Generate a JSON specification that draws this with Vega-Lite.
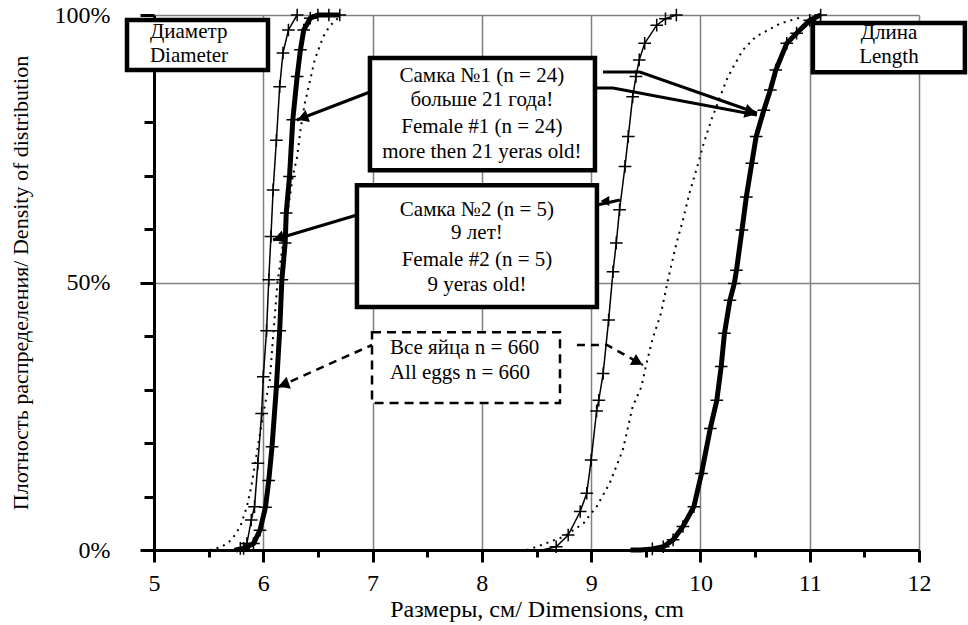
{
  "$schema": "https://vega.github.io/schema/vega-lite/v6.json",
  "width": 765,
  "height": 535,
  "autosize": {"type": "none"},
  "padding": {"left": 154, "top": 15, "right": 49, "bottom": 75},
  "background": "white",
  "config": {
    "font": "Liberation Serif",
    "view": {"stroke": null},
    "axis": {
      "labelFont": "Liberation Serif",
      "titleFont": "Liberation Serif",
      "labelFontSize": 24,
      "titleFontSize": 22,
      "titleFontWeight": "normal",
      "labelColor": "black",
      "titleColor": "black",
      "domainColor": "black",
      "domainWidth": 3,
      "tickColor": "black",
      "tickWidth": 3,
      "gridColor": "#808080",
      "gridWidth": 1.5
    }
  },
  "datasets": {
    "curves": [
      {"s": "f1", "d": "D", "x": 5.75, "p": 0},
      {"s": "f1", "d": "D", "x": 5.82, "p": 0.3},
      {"s": "f1", "d": "D", "x": 5.91, "p": 1.2},
      {"s": "f1", "d": "D", "x": 5.97, "p": 3.7},
      {"s": "f1", "d": "D", "x": 6.02, "p": 8},
      {"s": "f1", "d": "D", "x": 6.05, "p": 13},
      {"s": "f1", "d": "D", "x": 6.08, "p": 19.3},
      {"s": "f1", "d": "D", "x": 6.12, "p": 30.5},
      {"s": "f1", "d": "D", "x": 6.15, "p": 41},
      {"s": "f1", "d": "D", "x": 6.17, "p": 50.5},
      {"s": "f1", "d": "D", "x": 6.2, "p": 57.4},
      {"s": "f1", "d": "D", "x": 6.21, "p": 63},
      {"s": "f1", "d": "D", "x": 6.24, "p": 69.8},
      {"s": "f1", "d": "D", "x": 6.27, "p": 80.4},
      {"s": "f1", "d": "D", "x": 6.31, "p": 88.5},
      {"s": "f1", "d": "D", "x": 6.34, "p": 93.5},
      {"s": "f1", "d": "D", "x": 6.37, "p": 97.2},
      {"s": "f1", "d": "D", "x": 6.43, "p": 99.4},
      {"s": "f1", "d": "D", "x": 6.5, "p": 100},
      {"s": "f1", "d": "D", "x": 6.6, "p": 100},
      {"s": "f1", "d": "D", "x": 6.7, "p": 100},
      {"s": "f2", "d": "D", "x": 5.72, "p": 0},
      {"s": "f2", "d": "D", "x": 5.79, "p": 0.3},
      {"s": "f2", "d": "D", "x": 5.85, "p": 1.2},
      {"s": "f2", "d": "D", "x": 5.89, "p": 5.6},
      {"s": "f2", "d": "D", "x": 5.92, "p": 8.1},
      {"s": "f2", "d": "D", "x": 5.95, "p": 16.2},
      {"s": "f2", "d": "D", "x": 5.985, "p": 25.5},
      {"s": "f2", "d": "D", "x": 6.0, "p": 32.4},
      {"s": "f2", "d": "D", "x": 6.03, "p": 41},
      {"s": "f2", "d": "D", "x": 6.05, "p": 50.5},
      {"s": "f2", "d": "D", "x": 6.07, "p": 58.6},
      {"s": "f2", "d": "D", "x": 6.09, "p": 67.3},
      {"s": "f2", "d": "D", "x": 6.12, "p": 76.6},
      {"s": "f2", "d": "D", "x": 6.15, "p": 86.6},
      {"s": "f2", "d": "D", "x": 6.18, "p": 92.9},
      {"s": "f2", "d": "D", "x": 6.23, "p": 97.2},
      {"s": "f2", "d": "D", "x": 6.31, "p": 100},
      {"s": "all", "d": "D", "x": 5.51, "p": 0},
      {"s": "all", "d": "D", "x": 5.62, "p": 0.6},
      {"s": "all", "d": "D", "x": 5.71, "p": 1.9},
      {"s": "all", "d": "D", "x": 5.79, "p": 4.4},
      {"s": "all", "d": "D", "x": 5.85, "p": 8.1},
      {"s": "all", "d": "D", "x": 5.89, "p": 11.8},
      {"s": "all", "d": "D", "x": 5.95, "p": 19.3},
      {"s": "all", "d": "D", "x": 6.0, "p": 25.5},
      {"s": "all", "d": "D", "x": 6.06, "p": 31.8},
      {"s": "all", "d": "D", "x": 6.09, "p": 39.9},
      {"s": "all", "d": "D", "x": 6.13, "p": 50},
      {"s": "all", "d": "D", "x": 6.2, "p": 60},
      {"s": "all", "d": "D", "x": 6.27, "p": 69.8},
      {"s": "all", "d": "D", "x": 6.31, "p": 73.5},
      {"s": "all", "d": "D", "x": 6.34, "p": 78.5},
      {"s": "all", "d": "D", "x": 6.38, "p": 83.5},
      {"s": "all", "d": "D", "x": 6.43, "p": 87.9},
      {"s": "all", "d": "D", "x": 6.47, "p": 91.6},
      {"s": "all", "d": "D", "x": 6.55, "p": 96},
      {"s": "all", "d": "D", "x": 6.61, "p": 98},
      {"s": "all", "d": "D", "x": 6.7, "p": 99.7},
      {"s": "f2", "d": "L", "x": 8.55, "p": 0},
      {"s": "f2", "d": "L", "x": 8.68, "p": 0.6},
      {"s": "f2", "d": "L", "x": 8.79, "p": 2.8},
      {"s": "f2", "d": "L", "x": 8.9, "p": 7.2},
      {"s": "f2", "d": "L", "x": 8.96, "p": 10.6},
      {"s": "f2", "d": "L", "x": 9.0, "p": 16.8},
      {"s": "f2", "d": "L", "x": 9.05, "p": 26},
      {"s": "f2", "d": "L", "x": 9.07, "p": 28},
      {"s": "f2", "d": "L", "x": 9.11, "p": 33},
      {"s": "f2", "d": "L", "x": 9.16, "p": 43},
      {"s": "f2", "d": "L", "x": 9.2, "p": 52},
      {"s": "f2", "d": "L", "x": 9.23, "p": 57.4},
      {"s": "f2", "d": "L", "x": 9.26, "p": 63.6},
      {"s": "f2", "d": "L", "x": 9.31, "p": 71.7},
      {"s": "f2", "d": "L", "x": 9.34, "p": 77.3},
      {"s": "f2", "d": "L", "x": 9.38, "p": 84.7},
      {"s": "f2", "d": "L", "x": 9.41, "p": 88.5},
      {"s": "f2", "d": "L", "x": 9.44, "p": 91.6},
      {"s": "f2", "d": "L", "x": 9.49, "p": 94.7},
      {"s": "f2", "d": "L", "x": 9.6, "p": 98.1},
      {"s": "f2", "d": "L", "x": 9.68, "p": 99.3},
      {"s": "f2", "d": "L", "x": 9.78, "p": 100},
      {"s": "all", "d": "L", "x": 8.41, "p": 0},
      {"s": "all", "d": "L", "x": 8.5, "p": 0.6},
      {"s": "all", "d": "L", "x": 8.75, "p": 2.5},
      {"s": "all", "d": "L", "x": 8.93, "p": 5.0},
      {"s": "all", "d": "L", "x": 9.05, "p": 8.1},
      {"s": "all", "d": "L", "x": 9.17, "p": 12.5},
      {"s": "all", "d": "L", "x": 9.29, "p": 18.7},
      {"s": "all", "d": "L", "x": 9.38, "p": 26.8},
      {"s": "all", "d": "L", "x": 9.46, "p": 30.5},
      {"s": "all", "d": "L", "x": 9.5, "p": 34.3},
      {"s": "all", "d": "L", "x": 9.56, "p": 39.3},
      {"s": "all", "d": "L", "x": 9.64, "p": 44.3},
      {"s": "all", "d": "L", "x": 9.7, "p": 50.2},
      {"s": "all", "d": "L", "x": 9.78, "p": 57.3},
      {"s": "all", "d": "L", "x": 9.84, "p": 61.7},
      {"s": "all", "d": "L", "x": 9.9, "p": 66.7},
      {"s": "all", "d": "L", "x": 9.97, "p": 71.6},
      {"s": "all", "d": "L", "x": 10.03, "p": 76},
      {"s": "all", "d": "L", "x": 10.1, "p": 80.4},
      {"s": "all", "d": "L", "x": 10.18, "p": 84.7},
      {"s": "all", "d": "L", "x": 10.24, "p": 87.9},
      {"s": "all", "d": "L", "x": 10.3, "p": 90.3},
      {"s": "all", "d": "L", "x": 10.39, "p": 93.5},
      {"s": "all", "d": "L", "x": 10.51, "p": 96},
      {"s": "all", "d": "L", "x": 10.73, "p": 98.4},
      {"s": "all", "d": "L", "x": 10.94, "p": 99.7},
      {"s": "f1", "d": "L", "x": 9.36, "p": 0},
      {"s": "f1", "d": "L", "x": 9.45, "p": 0},
      {"s": "f1", "d": "L", "x": 9.56, "p": 0.2},
      {"s": "f1", "d": "L", "x": 9.66, "p": 0.6},
      {"s": "f1", "d": "L", "x": 9.75, "p": 1.9},
      {"s": "f1", "d": "L", "x": 9.84, "p": 4.4},
      {"s": "f1", "d": "L", "x": 9.94, "p": 8.1},
      {"s": "f1", "d": "L", "x": 10.01, "p": 14.3},
      {"s": "f1", "d": "L", "x": 10.09, "p": 22.7},
      {"s": "f1", "d": "L", "x": 10.15, "p": 28},
      {"s": "f1", "d": "L", "x": 10.19, "p": 34.3},
      {"s": "f1", "d": "L", "x": 10.22, "p": 40.5},
      {"s": "f1", "d": "L", "x": 10.27, "p": 46.7},
      {"s": "f1", "d": "L", "x": 10.31, "p": 49.8},
      {"s": "f1", "d": "L", "x": 10.33, "p": 52.3},
      {"s": "f1", "d": "L", "x": 10.38, "p": 59.8},
      {"s": "f1", "d": "L", "x": 10.42, "p": 66},
      {"s": "f1", "d": "L", "x": 10.47, "p": 72.3},
      {"s": "f1", "d": "L", "x": 10.51, "p": 77.3},
      {"s": "f1", "d": "L", "x": 10.58, "p": 82.2},
      {"s": "f1", "d": "L", "x": 10.64, "p": 86},
      {"s": "f1", "d": "L", "x": 10.69, "p": 89.7},
      {"s": "f1", "d": "L", "x": 10.79, "p": 94.7},
      {"s": "f1", "d": "L", "x": 10.88, "p": 96.6},
      {"s": "f1", "d": "L", "x": 11.0, "p": 99},
      {"s": "f1", "d": "L", "x": 11.1, "p": 100}
    ],
    "boxes": [
      {"b": "diam", "x1": 4.753, "x2": 6.043, "p1": 89.7, "p2": 99.07},
      {"b": "len", "x1": 11.029, "x2": 12.42, "p1": 89.3, "p2": 98.5},
      {"b": "f1", "x1": 6.976, "x2": 9.035, "p1": 71.0, "p2": 91.96},
      {"b": "f2", "x1": 6.857, "x2": 9.053, "p1": 45.4, "p2": 68.2},
      {"b": "all", "x1": 6.995, "x2": 8.715, "p1": 27.5, "p2": 40.7}
    ],
    "labels": [
      {"g": "left", "t": "Диаметр", "x": 4.963, "p": 96.9, "big": true},
      {"g": "left", "t": "Diameter", "x": 4.963, "p": 92.4, "big": true},
      {"g": "center", "t": "Длина", "x": 11.725, "p": 96.6, "big": true},
      {"g": "center", "t": "Length", "x": 11.725, "p": 92.2, "big": true},
      {"g": "center", "t": "Самка №1 (n = 24)", "x": 8.0, "p": 88.6, "big": false},
      {"g": "center", "t": "больше 21 года!", "x": 8.0, "p": 84.1, "big": false},
      {"g": "center", "t": "Female #1 (n = 24)", "x": 8.0, "p": 79.1, "big": false},
      {"g": "center", "t": "more then 21 yeras old!", "x": 8.0, "p": 74.4, "big": false},
      {"g": "center", "t": "Самка №2 (n = 5)", "x": 7.955, "p": 63.55, "big": false},
      {"g": "center", "t": "9 лет!", "x": 7.955, "p": 59.25, "big": false},
      {"g": "center", "t": "Female #2 (n = 5)", "x": 7.955, "p": 54.2, "big": false},
      {"g": "center", "t": "9 yeras old!", "x": 7.955, "p": 49.5, "big": false},
      {"g": "left", "t": "Все яйца n = 660", "x": 7.159, "p": 37.76, "big": false},
      {"g": "left", "t": "All eggs n = 660", "x": 7.159, "p": 33.08, "big": false}
    ],
    "arrows": [
      {"a": "f1l", "k": "solid", "x": 6.976, "p": 85.61},
      {"a": "f1l", "k": "solid", "x": 6.308, "p": 80.37},
      {"a": "f1u", "k": "solid", "x": 9.108, "p": 89.35},
      {"a": "f1u", "k": "solid", "x": 9.446, "p": 89.35},
      {"a": "f1u", "k": "solid", "x": 10.517, "p": 81.68},
      {"a": "f1d", "k": "solid", "x": 9.053, "p": 86.36},
      {"a": "f1d", "k": "solid", "x": 9.199, "p": 86.36},
      {"a": "f1d", "k": "solid", "x": 10.517, "p": 81.31},
      {"a": "f2l", "k": "solid", "x": 6.857, "p": 62.62},
      {"a": "f2l", "k": "solid", "x": 6.089, "p": 57.94},
      {"a": "f2r", "k": "solid", "x": 9.053, "p": 64.49},
      {"a": "f2r", "k": "solid", "x": 9.263, "p": 65.42},
      {"a": "alll", "k": "dash", "x": 6.995, "p": 38.32},
      {"a": "alll", "k": "dash", "x": 6.134, "p": 30.47},
      {"a": "allr", "k": "dash", "x": 8.87, "p": 38.32},
      {"a": "allr", "k": "dash", "x": 9.145, "p": 38.32},
      {"a": "allr", "k": "dash", "x": 9.474, "p": 34.58}
    ],
    "heads": [
      {"a": "f1l", "x": 6.36, "p": 80.77},
      {"a": "f1r", "x": 10.464, "p": 81.79},
      {"a": "f2l", "x": 6.141, "p": 58.26},
      {"a": "f2r", "x": 9.126, "p": 65.23},
      {"a": "alll", "x": 6.185, "p": 30.92},
      {"a": "allr", "x": 9.426, "p": 35.12}
    ]
  },
  "encoding": {
    "x": {
      "field": "x",
      "type": "quantitative",
      "scale": {"domain": [5, 12], "nice": false, "zero": false},
      "axis": {
        "title": "Размеры, см/ Dimensions, cm",
        "titleFontSize": 24,
        "values": [5, 5.5, 6, 6.5, 7, 7.5, 8, 8.5, 9, 9.5, 10, 10.5, 11, 11.5, 12],
        "labelExpr": "datum.value % 1 === 0 ? datum.value : ''",
        "tickSize": {"condition": {"test": "datum.value % 1 === 0", "value": 12}, "value": 7},
        "gridOpacity": {"condition": {"test": "datum.value % 1 === 0", "value": 1}, "value": 0},
        "labelPadding": 9,
        "titlePadding": 2,
        "labelFlush": false
      }
    },
    "y": {
      "field": "p",
      "type": "quantitative",
      "scale": {"domain": [0, 100], "nice": false},
      "axis": {
        "title": "Плотность распределения/ Density of distribution",
        "values": [0, 10, 20, 30, 40, 50, 60, 70, 80, 90, 100],
        "labelExpr": "datum.value % 50 === 0 ? datum.value + '%' : ''",
        "tickSize": {"condition": {"test": "datum.value % 50 === 0", "value": 14}, "value": 10},
        "gridOpacity": {"condition": {"test": "datum.value % 50 === 0", "value": 1}, "value": 0},
        "labelPadding": 30,
        "titlePadding": 22,
        "labelFlush": false
      }
    }
  },
  "layer": [
    {
      "data": {"name": "curves"},
      "transform": [{"filter": "datum.s === 'all'"}],
      "mark": {"type": "line", "color": "black", "strokeWidth": 2, "strokeDash": [2, 5]},
      "encoding": {"detail": {"field": "d"}}
    },
    {
      "data": {"name": "curves"},
      "transform": [{"filter": "datum.s === 'f2'"}],
      "mark": {"type": "line", "color": "black", "strokeWidth": 1.5},
      "encoding": {"detail": {"field": "d"}}
    },
    {
      "data": {"name": "curves"},
      "transform": [{"filter": "datum.s === 'f1'"}],
      "mark": {"type": "line", "color": "black", "strokeWidth": 5},
      "encoding": {"detail": {"field": "d"}}
    },
    {
      "data": {"name": "curves"},
      "transform": [{"filter": "datum.s !== 'all' && datum.p > 0"}],
      "mark": {"type": "point", "shape": "M-1,0H1M0,-1V1", "filled": false, "color": "black", "strokeWidth": 1.5, "size": 160, "opacity": 1}
    },
    {
      "data": {"name": "arrows"},
      "transform": [{"filter": "datum.k === 'solid'"}],
      "mark": {"type": "line", "color": "black", "strokeWidth": 3},
      "encoding": {"detail": {"field": "a"}}
    },
    {
      "data": {"name": "arrows"},
      "transform": [{"filter": "datum.k === 'dash'"}],
      "mark": {"type": "line", "color": "black", "strokeWidth": 2.5, "strokeDash": [8, 6]},
      "encoding": {"detail": {"field": "a"}}
    },
    {
      "data": {"name": "heads"},
      "transform": [{"filter": "datum.a === 'f1l' || datum.a === 'f2l' || datum.a === 'alll'"}],
      "mark": {"type": "point", "shape": "triangle-right", "filled": true, "color": "black", "size": 160, "angle": 160, "opacity": 1}
    },
    {
      "data": {"name": "heads"},
      "transform": [{"filter": "datum.a === 'f1r'"}],
      "mark": {"type": "point", "shape": "triangle-right", "filled": true, "color": "black", "size": 200, "angle": 15, "opacity": 1}
    },
    {
      "data": {"name": "heads"},
      "transform": [{"filter": "datum.a === 'allr'"}],
      "mark": {"type": "point", "shape": "triangle-right", "filled": true, "color": "black", "size": 160, "angle": 29, "opacity": 1}
    },
    {
      "data": {"name": "heads"},
      "transform": [{"filter": "datum.a === 'f2r'"}],
      "mark": {"type": "point", "shape": "triangle-right", "filled": true, "color": "black", "size": 100, "angle": 180, "opacity": 1}
    },
    {
      "data": {"name": "boxes"},
      "transform": [{"filter": "datum.b !== 'all'"}],
      "mark": {"type": "rect", "fill": "white", "stroke": "black", "strokeWidth": 4.5},
      "encoding": {
        "x": {"field": "x1", "type": "quantitative"},
        "x2": {"field": "x2"},
        "y": {"field": "p1", "type": "quantitative"},
        "y2": {"field": "p2"}
      }
    },
    {
      "data": {"name": "boxes"},
      "transform": [{"filter": "datum.b === 'all'"}],
      "mark": {"type": "rect", "fill": "white", "stroke": "black", "strokeWidth": 2.5, "strokeDash": [9, 6]},
      "encoding": {
        "x": {"field": "x1", "type": "quantitative"},
        "x2": {"field": "x2"},
        "y": {"field": "p1", "type": "quantitative"},
        "y2": {"field": "p2"}
      }
    },
    {
      "data": {"name": "labels"},
      "transform": [{"filter": "datum.g === 'center'"}],
      "mark": {"type": "text", "align": "center", "baseline": "middle", "font": "Liberation Serif", "color": "black"},
      "encoding": {
        "text": {"field": "t"},
        "size": {"condition": {"test": "datum.big", "value": 21}, "value": 21}
      }
    },
    {
      "data": {"name": "labels"},
      "transform": [{"filter": "datum.g === 'left'"}],
      "mark": {"type": "text", "align": "left", "baseline": "middle", "font": "Liberation Serif", "color": "black"},
      "encoding": {
        "text": {"field": "t"},
        "size": {"condition": {"test": "datum.big", "value": 21}, "value": 21}
      }
    }
  ]
}
